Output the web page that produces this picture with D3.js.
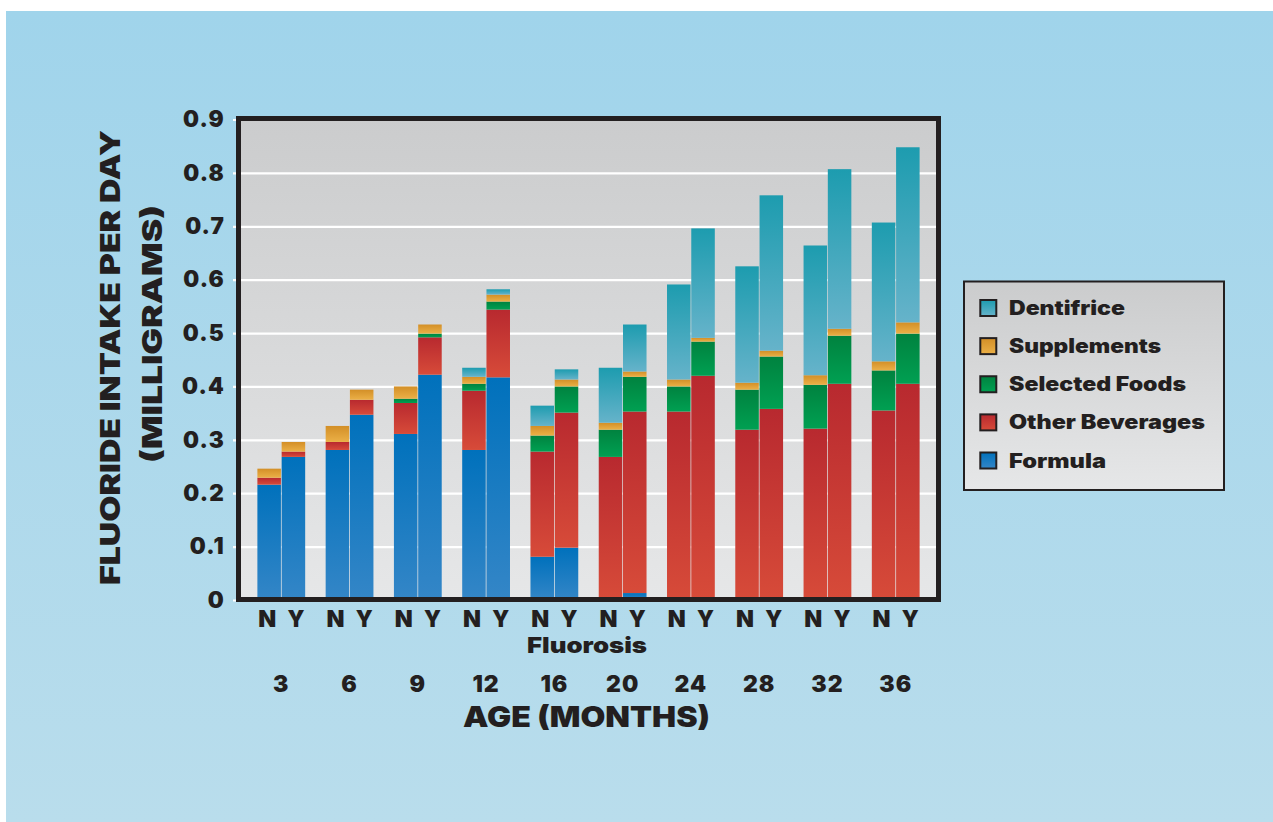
<!DOCTYPE html>
<html>
<head>
<meta charset="utf-8">
<script src="https://cdn.jsdelivr.net/npm/d3@7"></script>
<style>
  html, body { margin: 0; padding: 0; background: #ffffff; }
  svg { display: block; }
  text { font-family: "Inter", "Lato", "DejaVu Sans", sans-serif; font-weight: 900; fill: #231f20; }
</style>
</head>
<body>
<svg id="chart" width="1273" height="822"></svg>
<script>
// Age groups (months) and fluorosis status within each group
const ages = ["3", "6", "9", "12", "16", "20", "24", "28", "32", "36"];
const fluorosis = ["N", "Y"];

// Series, stacked bottom to top
const seriesNames = ["Formula", "Other Beverages", "Selected Foods", "Supplements", "Dentifrice"];

// Daily fluoride intake (mg) per source; bars ordered 3N, 3Y, 6N, 6Y, ...
const formula     = [0.216, 0.268, 0.281, 0.347, 0.311, 0.422, 0.281, 0.417, 0.081, 0.098, 0.000, 0.013, 0.000, 0.000, 0.000, 0.000, 0.000, 0.000, 0.000, 0.000];
const otherBev    = [0.013, 0.010, 0.015, 0.028, 0.058, 0.070, 0.111, 0.127, 0.197, 0.253, 0.268, 0.340, 0.353, 0.420, 0.319, 0.358, 0.321, 0.405, 0.355, 0.405];
const selFoods    = [0.000, 0.000, 0.000, 0.000, 0.008, 0.007, 0.013, 0.015, 0.030, 0.049, 0.051, 0.065, 0.047, 0.064, 0.075, 0.098, 0.082, 0.090, 0.075, 0.094];
const supplements = [0.017, 0.018, 0.030, 0.019, 0.023, 0.017, 0.013, 0.013, 0.018, 0.013, 0.013, 0.010, 0.013, 0.007, 0.013, 0.011, 0.018, 0.013, 0.017, 0.021];
const dentifrice  = [0.000, 0.000, 0.000, 0.000, 0.000, 0.000, 0.017, 0.010, 0.038, 0.019, 0.103, 0.088, 0.178, 0.205, 0.218, 0.291, 0.243, 0.299, 0.260, 0.328];

// Y axis ticks
const tickValues = [0, 0.1, 0.2, 0.3, 0.4, 0.5, 0.6, 0.7, 0.8, 0.9];
const tickLabels = ["0", "0.1", "0.2", "0.3", "0.4", "0.5", "0.6", "0.7", "0.8", "0.9"];

// Gradient stops (top, bottom) for each series
const seriesColors = {
  "Formula":         ["#0071bc", "#3486c7"],
  "Other Beverages": ["#b8292f", "#d74b39"],
  "Selected Foods":  ["#00823f", "#00a052"],
  "Supplements":     ["#d38f27", "#ebb047"],
  "Dentifrice":      ["#1d9caf", "#66b3ca"]
};

// Label widths for the wide display face
const legendWidths = { "Dentifrice": 116, "Supplements": 152, "Selected Foods": 177, "Other Beverages": 196, "Formula": 97 };

// Build one row per bar
const sourceArrays = [formula, otherBev, selFoods, supplements, dentifrice];
const rows = [];
ages.forEach((age, i) => {
  fluorosis.forEach((f, j) => {
    const idx = i * 2 + j;
    const row = { age: age, fl: f };
    seriesNames.forEach((s, k) => { row[s] = sourceArrays[k][idx]; });
    rows.push(row);
  });
});

const svg = d3.select("#chart");
const defs = svg.append("defs");

function vGradient(id, top, bottom) {
  const g = defs.append("linearGradient").attr("id", id)
    .attr("x1", 0).attr("y1", 0).attr("x2", 0).attr("y2", 1);
  g.append("stop").attr("offset", "0%").attr("stop-color", top);
  g.append("stop").attr("offset", "100%").attr("stop-color", bottom);
}
vGradient("bgGrad", "#a0d4eb", "#b9ddec");
vGradient("plotGrad", "#cbcccd", "#e6e7e8");
vGradient("legendGrad", "#cbcccd", "#e6e7e8");
seriesNames.forEach((s, k) => vGradient("g" + k, seriesColors[s][0], seriesColors[s][1]));

// Page background
svg.append("rect").attr("x", 6).attr("y", 11).attr("width", 1267).attr("height", 811)
  .attr("fill", "url(#bgGrad)");

// Plot geometry
const plot = { left: 238.5, top: 118.5, right: 938.5, bottom: 599.5 };

const x = d3.scaleBand().domain(ages).range([241, 936]).paddingInner(0.3).paddingOuter(0.24);
const xf = d3.scaleBand().domain(fluorosis).range([0, x.bandwidth()]).paddingInner(0.03);
const y = d3.scaleLinear().domain([0, 0.9]).range([600, 119.5]);

// Plot panel
svg.append("rect")
  .attr("x", plot.left).attr("y", plot.top)
  .attr("width", plot.right - plot.left).attr("height", plot.bottom - plot.top)
  .attr("fill", "url(#plotGrad)");

// Gridlines and tick labels
const yAxis = d3.axisLeft(y)
  .tickValues(tickValues)
  .tickFormat((d, i) => tickLabels[i])
  .tickSize(-(936 - 233))
  .tickPadding(8);
const gy = svg.append("g").attr("transform", "translate(233,0)").call(yAxis);
gy.select(".domain").remove();
gy.selectAll(".tick line").attr("stroke", "#ffffff").attr("stroke-width", 2.2);
gy.selectAll(".tick text")
  .attr("font-size", 22.5).attr("font-family", null)
  .attr("letter-spacing", 1.2)
  .attr("fill", "#231f20");

// Stacked bars
const stack = d3.stack().keys(seriesNames);
const stacked = stack(rows);

const layers = svg.append("g").selectAll("g")
  .data(stacked)
  .join("g")
  .attr("fill", (d, k) => "url(#g" + k + ")");

layers.selectAll("rect")
  .data(d => d.filter(p => p[1] - p[0] > 0))
  .join("rect")
  .attr("x", p => x(p.data.age) + xf(p.data.fl))
  .attr("width", xf.bandwidth())
  .attr("y", p => y(p[1]))
  .attr("height", p => y(p[0]) - y(p[1]));

// Frame around the plot
svg.append("rect")
  .attr("x", plot.left).attr("y", plot.top)
  .attr("width", plot.right - plot.left).attr("height", plot.bottom - plot.top)
  .attr("fill", "none").attr("stroke", "#231f20").attr("stroke-width", 5);

// Fluorosis labels under each bar
const flLabels = svg.append("g");
ages.forEach(age => {
  fluorosis.forEach(f => {
    flLabels.append("text")
      .attr("x", x(age) + xf(f) + xf.bandwidth() / 2 + (f === "N" ? -2 : 2.5))
      .attr("y", 627)
      .attr("text-anchor", "middle")
      .attr("font-size", 23)
      .attr("textLength", f === "N" ? 18 : 17)
      .attr("lengthAdjust", "spacingAndGlyphs")
      .text(f);
  });
});

svg.append("text").attr("x", 587).attr("y", 653)
  .attr("text-anchor", "middle").attr("font-size", 22)
  .attr("textLength", 120).attr("lengthAdjust", "spacingAndGlyphs")
  .text("Fluorosis");

// Age axis labels
const xAxis = d3.axisBottom(x).tickSize(0).tickPadding(0);
const gx = svg.append("g").attr("transform", "translate(0,675)").call(xAxis);
gx.select(".domain").remove();
gx.selectAll(".tick text")
  .attr("font-size", 23).attr("font-family", null).attr("fill", "#231f20")
  .attr("letter-spacing", 1)
  .attr("dy", "0.72em");

svg.append("text").attr("x", 586.5).attr("y", 727)
  .attr("text-anchor", "middle").attr("font-size", 28.5)
  .attr("textLength", 247).attr("lengthAdjust", "spacingAndGlyphs")
  .text("AGE (MONTHS)");

// Y axis title (two lines)
svg.append("text")
  .attr("transform", "translate(120,357.5) rotate(-90)")
  .attr("text-anchor", "middle").attr("font-size", 27.5)
  .attr("textLength", 455).attr("lengthAdjust", "spacingAndGlyphs")
  .text("FLUORIDE INTAKE PER DAY");
svg.append("text")
  .attr("transform", "translate(162,334) rotate(-90)")
  .attr("text-anchor", "middle").attr("font-size", 27.5)
  .attr("textLength", 258).attr("lengthAdjust", "spacingAndGlyphs")
  .text("(MILLIGRAMS)");

// Legend
const legend = svg.append("g");
legend.append("rect")
  .attr("x", 964).attr("y", 281.5).attr("width", 260).attr("height", 208.5)
  .attr("fill", "url(#legendGrad)").attr("stroke", "#231f20").attr("stroke-width", 2);

const legendOrder = seriesNames.slice().reverse();
const ly = d3.scalePoint().domain(legendOrder).range([308, 460.5]);
legendOrder.forEach(s => {
  const k = seriesNames.indexOf(s);
  legend.append("rect")
    .attr("x", 980.3).attr("y", ly(s) - 8)
    .attr("width", 16).attr("height", 16)
    .attr("fill", "url(#g" + k + ")")
    .attr("stroke", "#231f20").attr("stroke-width", 2);
  legend.append("text")
    .attr("x", 1009).attr("y", ly(s) + 7)
    .attr("font-size", 19.5)
    .attr("textLength", legendWidths[s]).attr("lengthAdjust", "spacingAndGlyphs")
    .text(s);
});
</script>
</body>
</html>
